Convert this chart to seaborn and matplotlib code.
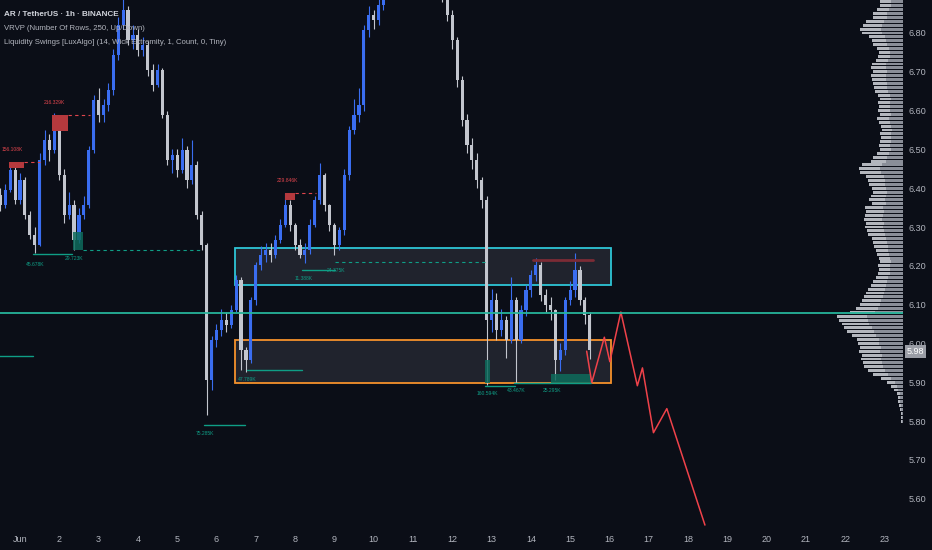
import numpy as np
import pandas as pd
import matplotlib.pyplot as plt
from matplotlib.patches import Rectangle
import seaborn as sns

# AR / TetherUS, 3h candles starting May 31 12:00
open_first = 6.382
closes = [6.357, 6.395, 6.447, 6.370, 6.421, 6.331, 6.279, 6.254, 6.473, 6.524,
          6.498, 6.563, 6.434, 6.331, 6.357, 6.266, 6.331, 6.357, 6.498, 6.627,
          6.589, 6.614, 6.653, 6.743, 6.821, 6.859, 6.782, 6.795, 6.756, 6.769,
          6.705, 6.666, 6.705, 6.589, 6.473, 6.485, 6.447, 6.498, 6.421, 6.460,
          6.331, 6.254, 5.906, 6.009, 6.034, 6.060, 6.047, 6.086, 6.163, 5.983,
          5.957, 6.112, 6.202, 6.228, 6.241, 6.228, 6.266, 6.305, 6.357, 6.305,
          6.254, 6.228, 6.241, 6.305, 6.370, 6.434, 6.357, 6.305, 6.254, 6.292,
          6.434, 6.550, 6.589, 6.614, 6.808, 6.846, 6.833, 6.872, 6.911, 6.962,
          6.988, 7.014, 7.001, 7.027, 6.988, 7.014, 6.962, 6.975, 6.937, 6.949,
          6.898, 6.846, 6.782, 6.679, 6.576, 6.511, 6.473, 6.421, 6.370, 6.060,
          6.112, 6.034, 6.060, 6.009, 6.112, 6.009, 6.086, 6.137, 6.176, 6.202,
          6.125, 6.099, 6.086, 5.957, 5.983, 6.112, 6.137, 6.189, 6.112, 6.073,
          5.983]
highs = [6.40, 6.41, 6.468, 6.46, 6.44, 6.43, 6.34, 6.30, 6.49, 6.55,
         6.54, 6.594, 6.57, 6.45, 6.39, 6.37, 6.35, 6.38, 6.51, 6.64,
         6.658, 6.63, 6.67, 6.76, 6.84, 6.90, 6.87, 6.82, 6.81, 6.79,
         6.78, 6.72, 6.72, 6.71, 6.60, 6.50, 6.50, 6.529, 6.51, 6.524,
         6.47, 6.34, 6.26, 6.02, 6.05, 6.09, 6.08, 6.10, 6.176, 6.17,
         5.99, 6.12, 6.21, 6.25, 6.26, 6.26, 6.28, 6.32, 6.388, 6.37,
         6.31, 6.27, 6.26, 6.32, 6.38, 6.465, 6.44, 6.36, 6.31, 6.30,
         6.45, 6.56, 6.63, 6.658, 6.82, 6.87, 6.86, 6.89, 6.93, 6.98,
         7.00, 7.03, 7.03, 7.05, 7.04, 7.03, 7.02, 6.99, 6.99, 6.97,
         6.96, 6.91, 6.86, 6.79, 6.69, 6.59, 6.53, 6.49, 6.43, 6.38,
         6.14, 6.13, 6.09, 6.07, 6.171, 6.12, 6.10, 6.15, 6.19, 6.220,
         6.21, 6.14, 6.12, 6.09, 6.00, 6.12, 6.16, 6.233, 6.20, 6.12,
         6.08]
lows = [6.34, 6.35, 6.39, 6.36, 6.36, 6.32, 6.27, 6.233, 6.25, 6.46,
        6.47, 6.49, 6.42, 6.31, 6.32, 6.241, 6.26, 6.32, 6.35, 6.49,
        6.57, 6.57, 6.60, 6.64, 6.73, 6.81, 6.77, 6.76, 6.74, 6.74,
        6.69, 6.65, 6.66, 6.58, 6.46, 6.44, 6.43, 6.44, 6.40, 6.41,
        6.32, 6.24, 5.815, 5.88, 5.99, 6.02, 6.03, 6.04, 6.08, 5.931,
        5.926, 5.95, 6.10, 6.19, 6.21, 6.21, 6.22, 6.26, 6.30, 6.29,
        6.24, 6.22, 6.207, 6.23, 6.30, 6.36, 6.34, 6.29, 6.228, 6.24,
        6.28, 6.42, 6.54, 6.57, 6.60, 6.79, 6.81, 6.82, 6.86, 6.90,
        6.95, 6.97, 6.99, 6.99, 6.97, 6.97, 6.95, 6.94, 6.92, 6.92,
        6.88, 6.83, 6.76, 6.66, 6.56, 6.49, 6.45, 6.40, 6.35, 5.893,
        6.03, 6.01, 6.02, 5.962, 6.00, 5.898, 6.00, 6.07, 6.12, 6.16,
        6.11, 6.08, 6.06, 5.906, 5.93, 5.97, 6.10, 6.12, 6.10, 6.05,
        5.96]

day_labels = ["Jun"] + [str(d) for d in range(2, 24)]
price_ticks = [5.60, 5.70, 5.80, 5.90, 6.00, 6.10, 6.20, 6.30, 6.40, 6.50, 6.60, 6.70, 6.80]

# VRVP rows (price step 0.01 from 5.80 to 6.88)
profile_prices = np.round(np.arange(5.80, 6.885, 0.01), 2)
vol_total = [1.5, 2, 2, 3, 4, 5, 5, 6, 9, 12,
             16, 22, 30, 34, 38, 39, 41, 40, 43, 42,
             44, 45, 50, 55, 58, 60, 63, 65, 52, 46,
             42, 40, 38, 36, 34, 32, 30, 27, 25, 24,
             25, 23, 24, 26, 27, 29, 30, 31, 34, 35,
             37, 36, 38, 37, 36, 37, 31, 33, 32, 30,
             31, 33, 34, 36, 42, 43, 40, 32, 30, 26,
             23, 24, 23, 22, 23, 21, 22, 24, 26, 23,
             25, 24, 25, 23, 25, 28, 29, 30, 31, 32,
             30, 32, 31, 27, 25, 24, 26, 30, 31, 33,
             40, 42, 39, 36, 30, 30, 26, 23, 23]
vol_up = [1, 1, 1, 2, 2, 3, 3, 3, 5, 6,
          8, 12, 15, 18, 20, 21, 22, 21, 23, 22,
          24, 24, 27, 29, 31, 33, 34, 35, 28, 25,
          23, 22, 20, 19, 18, 17, 16, 15, 13, 13,
          13, 12, 13, 14, 15, 15, 16, 17, 18, 19,
          20, 19, 21, 20, 19, 20, 17, 18, 17, 16,
          17, 18, 18, 19, 22, 23, 21, 17, 16, 14,
          12, 13, 12, 12, 12, 11, 12, 13, 14, 12,
          13, 13, 13, 12, 13, 15, 16, 16, 17, 17,
          16, 17, 17, 15, 13, 13, 14, 16, 17, 18,
          21, 22, 21, 19, 16, 16, 14, 12, 12]

poc_price = 6.078
last_price = 5.983

# zones (days since Jun 1)
zone_t = (5.47, 15.04)
supply_zone = (6.150, 6.246)
demand_zone = (5.898, 6.009)

# projected path
proj_t = [14.42, 14.55, 14.87, 15.01, 15.29, 15.71, 15.84, 16.12, 16.46, 17.43]
proj_p = [5.980, 5.899, 6.016, 5.953, 6.081, 5.891, 5.937, 5.770, 5.832, 5.532]

# liquidity swing highs
sh_t0 = [-0.28, 0.81, 6.74]
sh_t1 = [0.10, 1.22, 7.00]
sh_top = [6.467, 6.589, 6.388]
sh_bot = [6.452, 6.548, 6.370]
sh_dash_end = [0.51, 1.78, 7.53]
sh_labels = ["156.108K", "216.329K", "229.846K"]

# liquidity swing lows
sl_box_t0 = [1.35, 11.83, 13.51]
sl_box_t1 = [1.60, 11.96, 14.53]
sl_box_bot = [6.241, 5.898, 5.898]
sl_box_top = [6.287, 5.957, 5.921]
sl_line_t0 = [0.33, 4.68, 5.78, 7.18, 11.83, 12.57, -0.60]
sl_line_t1 = [1.32, 5.73, 7.18, 8.02, 12.60, 14.53, 0.33]
sl_line_p = [6.230, 5.790, 5.931, 6.189, 5.890, 5.898, 5.967]
sl_dash_t0 = [1.60, 8.02]
sl_dash_t1 = [4.58, 11.83]
sl_dash_p = [6.241, 6.210]
sl_labels = ["45.678K", "29.723K", "75.285K", "47.789K", "11.388K", "24.375K",
             "160.594K", "43.467K", "25.295K"]
sl_label_t = [0.15, 1.15, 4.48, 5.55, 7.00, 7.80, 11.62, 12.40, 13.30]
sl_label_p = [6.200, 6.215, 5.764, 5.903, 6.163, 6.183, 5.867, 5.875, 5.875]

BG = "#0b0e17"
UP = "#3a6df0"
DOWN = "#c3c6ce"
TXT = "#b2b5be"

sns.set_style("dark", {"axes.facecolor": BG, "figure.facecolor": BG})
plt.rcParams['font.family'] = ['Liberation Sans', 'DejaVu Sans']

fig = plt.figure(figsize=(9.32, 5.5), dpi=100)
ax = fig.add_axes([0, 23 / 550, 903 / 932, 527 / 550])

times = pd.date_range("2024-05-31 12:00", periods=len(closes), freq="3h")
t = (times - pd.Timestamp("2024-06-01")) / pd.Timedelta(days=1)
df = pd.DataFrame({"t": t, "o": [open_first] + closes[:-1], "c": closes,
                   "h": highs, "l": lows})
df["up"] = df["c"] >= df["o"]

# zones
for (lo, hi), col in [(supply_zone, "#2ec5d6"), (demand_zone, "#f5912b")]:
    ax.add_patch(Rectangle((zone_t[0], lo), zone_t[1] - zone_t[0], hi - lo,
                           facecolor=(0.47, 0.48, 0.53, 0.2), edgecolor=col, lw=1.3, zorder=1))

# candles
for up, g in df.groupby("up"):
    col = UP if up else DOWN
    ax.vlines(g["t"], g["l"], g["h"], color=col, lw=0.8, zorder=3)
    body = (g["c"] - g["o"]).abs().clip(lower=0.004)
    ax.bar(g["t"], body, bottom=np.minimum(g["o"], g["c"]), width=0.08,
           color=col, linewidth=0, zorder=3)

# swing highs
for i in range(len(sh_labels)):
    ax.add_patch(Rectangle((sh_t0[i], sh_bot[i]), sh_t1[i] - sh_t0[i], sh_top[i] - sh_bot[i],
                           facecolor="#b5393d", edgecolor="none", zorder=4))
    ax.plot([sh_t1[i], sh_dash_end[i]], [sh_top[i], sh_top[i]], ls=(0, (3, 3)),
            color="#e0454d", lw=0.8, zorder=4)
    ax.text(sh_t0[i] - 0.2, sh_top[i] + 0.028, sh_labels[i], color="#e0454d",
            fontsize=3.6, zorder=5)
ax.plot([13.05, 14.58], [6.215, 6.215], color="#7c2b35", lw=2, zorder=4)

# swing lows
for i in range(len(sl_box_t0)):
    ax.add_patch(Rectangle((sl_box_t0[i], sl_box_bot[i]), sl_box_t1[i] - sl_box_t0[i],
                           sl_box_top[i] - sl_box_bot[i], facecolor="#0e6b5c",
                           edgecolor="none", alpha=0.85, zorder=4))
for i in range(len(sl_line_p)):
    ax.plot([sl_line_t0[i], sl_line_t1[i]], [sl_line_p[i]] * 2, color="#0f9e86",
            lw=1.0, zorder=4)
for i in range(len(sl_dash_p)):
    ax.plot([sl_dash_t0[i], sl_dash_t1[i]], [sl_dash_p[i]] * 2, ls=(0, (3, 3)),
            color="#0f9e86", lw=0.8, zorder=4)
for i in range(len(sl_labels)):
    ax.text(sl_label_t[i], sl_label_p[i], sl_labels[i], color="#0f9e86",
            fontsize=3.6, zorder=5)

# projection
sns.lineplot(x=proj_t, y=proj_p, ax=ax, color="#f0424a", lw=1.1, sort=False,
             estimator=None, zorder=6)

ax.set_xlim(-0.509, 22.47)
ax.set_ylim(5.527, 6.885)
ax.yaxis.tick_right()
ax.set_yticks(price_ticks)
ax.set_yticklabels([f"{p:.2f}" for p in price_ticks])
ax.set_xticks(range(len(day_labels)))
ax.set_xticklabels(day_labels)
ax.tick_params(axis="both", colors=TXT, labelsize=6.5, length=0)
ax.tick_params(axis="y", pad=4)
ax.tick_params(axis="x", pad=6)
ax.set_xlabel("")
ax.set_ylabel("")
for s in ax.spines.values():
    s.set_visible(False)

# volume profile, anchored to the right edge
ax2 = ax.twiny()
scale = max(vol_total) * 903 / 66
ax2.set_xlim(scale, 0)
vol_down = np.array(vol_total) - np.array(vol_up)
ax2.barh(profile_prices, vol_up, height=0.0075, color="#8a8e98", linewidth=0, zorder=2)
ax2.barh(profile_prices, vol_down, left=vol_up, height=0.0075, color="#c6c9d0",
         alpha=0.9, linewidth=0, zorder=2)
ax2.axhline(poc_price, color="#26b49a", lw=1.3, zorder=5)
ax2.set_xticks([])
for s in ax2.spines.values():
    s.set_visible(False)

ax.text(1.004, last_price - 0.004, "5.98", transform=ax.get_yaxis_transform(), fontsize=6.5,
        color="white", va="center", ha="left", zorder=10,
        bbox=dict(boxstyle="square,pad=0.2", facecolor="#9a9da6", edgecolor="none"))

fig.text(4 / 932, 1 - 15 / 550, "AR / TetherUS · 1h · BINANCE", color="#d1d4dc",
         fontsize=5.9, fontweight="bold", va="center")
fig.text(4 / 932, 1 - 29 / 550, "VRVP (Number Of Rows, 250, Up/Down)", color=TXT,
         fontsize=5.6, va="center")
fig.text(4 / 932, 1 - 43 / 550,
         "Liquidity Swings [LuxAlgo] (14, Wick Extremity, 1, Count, 0, Tiny)",
         color=TXT, fontsize=5.6, va="center")

fig.savefig("out.png", dpi=100, facecolor=BG)
